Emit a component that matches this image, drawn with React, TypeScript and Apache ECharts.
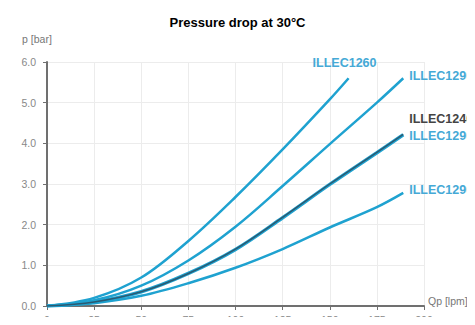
import React, { useEffect, useRef } from "react";
import * as echarts from "echarts";

const flow = [0, 25, 50, 75, 100, 125, 150, 175, 189];
const illec1260Flow = [0, 25, 50, 75, 100, 125, 150, 160];
const illec1260 = [0, 0.2, 0.7, 1.6, 2.68, 3.85, 5.08, 5.6];
const illec1290a = [0, 0.14, 0.5, 1.12, 1.95, 2.95, 3.98, 5.0, 5.6];
const illec1240 = [0, 0.1, 0.35, 0.8, 1.4, 2.18, 3.0, 3.78, 4.22];
const illec1290b = [0, 0.1, 0.35, 0.8, 1.39, 2.17, 2.99, 3.77, 4.21];
const illec1290c = [0, 0.07, 0.25, 0.56, 0.94, 1.4, 1.93, 2.43, 2.78];
const xTicks = [0, 25, 50, 75, 100, 125, 150, 175, 200];
const yTicks = [0, 1, 2, 3, 4, 5, 6];

const BLUE = "#1fa2d0";
const LABEL_BLUE = "#45a9d6";
const FONT = "Liberation Sans, Arial, sans-serif";

const pair = (xs: number[], ys: number[]) => ys.map((y, i) => [xs[i], y]);

export default function App() {
  const ref = useRef<HTMLDivElement>(null);
  useEffect(() => {
    if (!ref.current) return;
    const chart = echarts.init(ref.current, null, { renderer: "svg" });
    const labelStyle = {
      fontFamily: FONT,
      fontSize: 12.5,
      fontWeight: "bold" as const,
      color: LABEL_BLUE,
    };
    const mk = (name: string, data: number[][], color: string, width: number, endLabel: any, z = 2) => ({
      type: "line",
      name,
      data,
      smooth: 0.35,
      showSymbol: false,
      symbol: "none",
      z,
      lineStyle: { color, width },
      endLabel: { show: true, formatter: name, ...labelStyle, ...endLabel },
    });
    chart.setOption({
      animation: false,
      backgroundColor: "#ffffff",
      title: {
        text: "Pressure drop at 30°C",
        left: "center",
        top: 11,
        textStyle: { fontFamily: FONT, fontSize: 13, fontWeight: "bold", color: "#000" },
      },
      grid: { left: 47, right: 51, top: 62, bottom: 15, containLabel: false },
      xAxis: {
        type: "value",
        min: xTicks[0],
        max: xTicks[xTicks.length - 1],
        interval: 25,
        name: "Qp [lpm]",
        nameLocation: "end",
        nameGap: 4,
        nameTextStyle: {
          color: "#777",
          fontSize: 10.5,
          fontFamily: FONT,
          align: "left",
          verticalAlign: "bottom",
          padding: [0, 0, 0, 0],
        },
        axisLine: { show: true, lineStyle: { color: "#707070", width: 2 } },
        axisTick: { show: true, length: 4, lineStyle: { color: "#707070" } },
        axisLabel: { color: "#888", fontSize: 10.5, margin: 8, fontFamily: FONT },
        splitLine: { show: true, lineStyle: { color: "#ececec", width: 1 } },
      },
      yAxis: {
        type: "value",
        min: yTicks[0],
        max: yTicks[yTicks.length - 1],
        interval: 1,
        name: "p [bar]",
        nameLocation: "end",
        nameGap: 18,
        nameTextStyle: {
          color: "#777",
          fontSize: 10.5,
          fontFamily: FONT,
          align: "center",
          padding: [0, 20, 0, 0],
        },
        axisLine: { show: true, lineStyle: { color: "#707070", width: 2 } },
        axisTick: { show: true, length: 4, lineStyle: { color: "#707070" } },
        axisLabel: {
          color: "#888",
          fontSize: 10.5,
          margin: 11,
          fontFamily: FONT,
          formatter: (v: number) => v.toFixed(1),
        },
        splitLine: { show: true, lineStyle: { color: "#ececec", width: 1 } },
      },
      series: [
        mk("ILLEC1260", pair(illec1260Flow, illec1260), BLUE, 2.5, { distance: 6, offset: [-42, -15] }),
        mk("ILLEC1290", pair(flow, illec1290a), BLUE, 2.5, { distance: 6, offset: [0, -2] }),
        mk("ILLEC1290 ", pair(flow, illec1290b), BLUE, 3.5, { distance: 6, offset: [0, 1], formatter: "ILLEC1290" }),
        mk("ILLEC1240", pair(flow, illec1240), "#2a5a72", 1.5, { distance: 6, offset: [0, -15], color: "#444" }, 3),
        mk("ILLEC1295", pair(flow, illec1290c), BLUE, 2.5, { distance: 6, offset: [0, -3], formatter: "ILLEC1290" }),
      ],
    });
    return () => chart.dispose();
  }, []);
  return <div ref={ref} style={{ width: 475, height: 325, margin: -8 }} />;
}
